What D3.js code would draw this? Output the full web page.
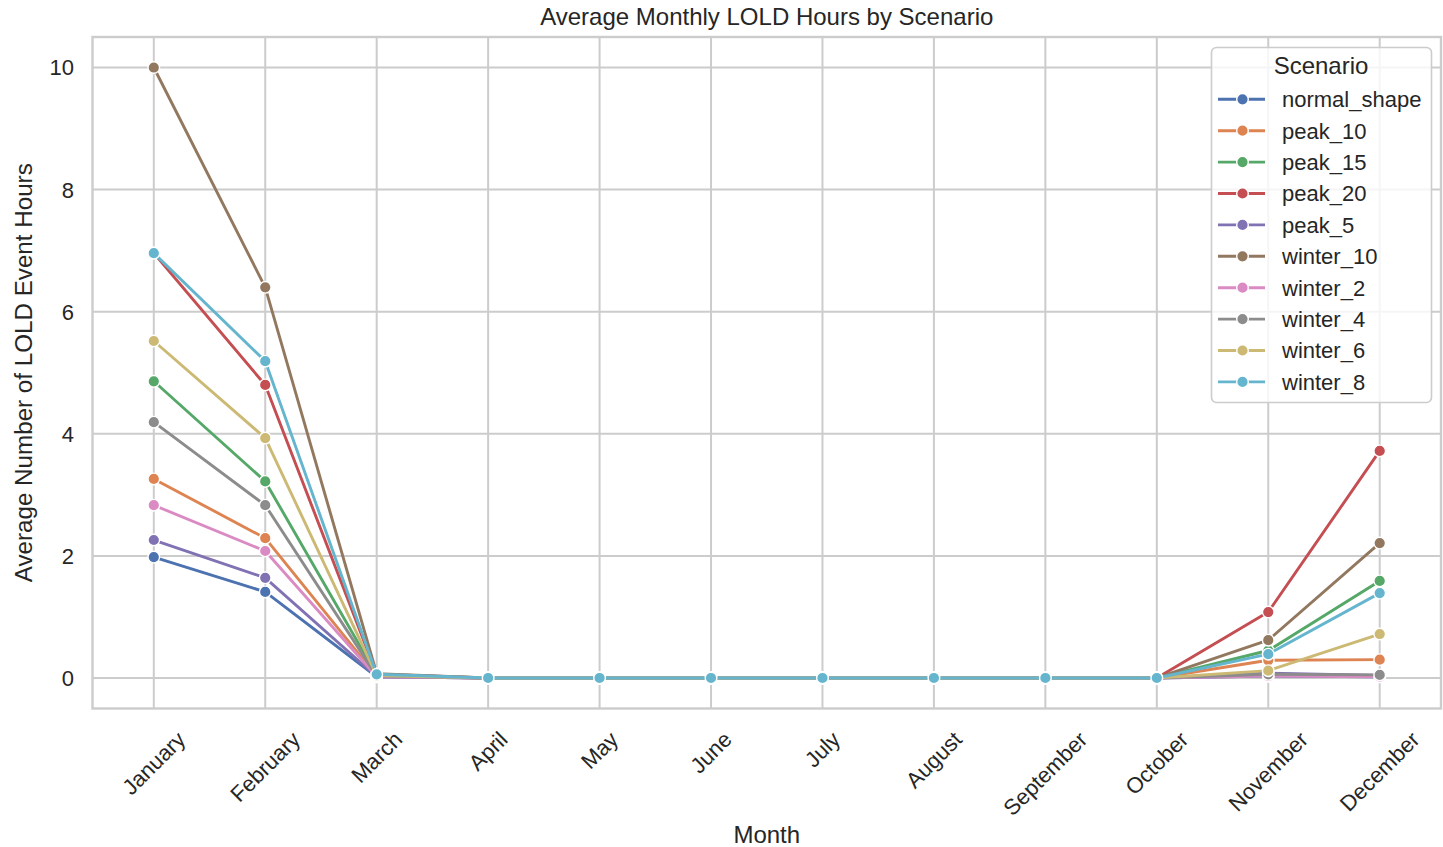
<!DOCTYPE html>
<html>
<head>
<meta charset="utf-8">
<script src="https://cdn.jsdelivr.net/npm/d3@7"></script>
<style>
  body { margin: 0; background: #fff; }
  text { font-family: "Liberation Sans", Arial, sans-serif; fill: #262626; }
</style>
</head>
<body>
<svg id="chart" width="1443" height="847"></svg>
<script>
const months = ["January","February","March","April","May","June","July","August","September","October","November","December"];
const scenarios = ["normal_shape","peak_10","peak_15","peak_20","peak_5","winter_10","winter_2","winter_4","winter_6","winter_8"];
const colours = ["#4c72b0","#dd8452","#55a868","#c44e52","#8172b3","#937860","#da8bc3","#8c8c8c","#ccb974","#64b5cd"];
const yTicks = [0, 2, 4, 6, 8, 10];

// values per scenario, Jan..Dec
const normal_shape = [1.98, 1.41, 0.02, 0, 0, 0, 0, 0, 0, 0, 0.03, 0.02];
const peak_10      = [3.26, 2.29, 0.03, 0, 0, 0, 0, 0, 0, 0, 0.29, 0.30];
const peak_15      = [4.86, 3.22, 0.05, 0, 0, 0, 0, 0, 0, 0, 0.45, 1.59];
const peak_20      = [6.96, 4.80, 0.06, 0, 0, 0, 0, 0, 0, 0, 1.08, 3.72];
const peak_5       = [2.26, 1.64, 0.02, 0, 0, 0, 0, 0, 0, 0, 0.08, 0.04];
const winter_10    = [10.0, 6.40, 0.07, 0, 0, 0, 0, 0, 0, 0, 0.62, 2.21];
const winter_2     = [2.83, 2.08, 0.02, 0, 0, 0, 0, 0, 0, 0, 0.03, 0.02];
const winter_4     = [4.19, 2.83, 0.03, 0, 0, 0, 0, 0, 0, 0, 0.06, 0.05];
const winter_6     = [5.52, 3.93, 0.04, 0, 0, 0, 0, 0, 0, 0, 0.12, 0.72];
const winter_8     = [6.96, 5.19, 0.06, 0, 0, 0, 0, 0, 0, 0, 0.39, 1.39];
const seriesValues = [normal_shape, peak_10, peak_15, peak_20, peak_5, winter_10, winter_2, winter_4, winter_6, winter_8];

const svg = d3.select("#chart");
const plot = {left: 92.5, top: 37, right: 1441, bottom: 708.5};

// matplotlib-like margins: 5% on both axes
const x = d3.scaleLinear().domain([-0.55, 11.55]).range([plot.left, plot.right]);
const y = d3.scaleLinear().domain([-0.5, 10.5]).range([plot.bottom, plot.top]);

const grid = svg.append("g");
grid.selectAll(".vg").data(months).enter().append("line")
  .attr("x1", (d, i) => x(i)).attr("x2", (d, i) => x(i))
  .attr("y1", plot.top).attr("y2", plot.bottom)
  .attr("stroke", "#cccccc").attr("stroke-width", 2);
grid.selectAll(".hg").data(yTicks).enter().append("line")
  .attr("x1", plot.left).attr("x2", plot.right)
  .attr("y1", d => y(d)).attr("y2", d => y(d))
  .attr("stroke", "#cccccc").attr("stroke-width", 2);

// frame
svg.append("rect")
  .attr("x", plot.left).attr("y", plot.top)
  .attr("width", plot.right - plot.left).attr("height", plot.bottom - plot.top)
  .attr("fill", "none").attr("stroke", "#cccccc").attr("stroke-width", 2.4);

// y tick labels
svg.selectAll(".yt").data(yTicks).enter().append("text")
  .attr("x", 74).attr("y", d => y(d))
  .attr("dy", "0.36em")
  .attr("text-anchor", "end")
  .attr("font-size", "22px")
  .text(d => d);

// x tick labels, rotated 45 and centred under the tick
svg.selectAll(".xt").data(months).enter().append("text")
  .attr("font-size", "22px")
  .attr("text-anchor", "middle")
  .attr("dominant-baseline", "central")
  .text(d => d)
  .each(function(d, i) {
    const w = this.getComputedTextLength();
    const h = 16;
    const half = (w / 2 + h / 2) * Math.SQRT1_2;
    const cx = x(i), cy = 730 + half;
    d3.select(this).attr("x", cx).attr("y", cy)
      .attr("transform", `rotate(-45, ${cx}, ${cy})`);
  });

// lines and markers
const line = d3.line().x((d, i) => x(i)).y(d => y(d));
scenarios.forEach((name, k) => {
  const g = svg.append("g");
  g.append("path")
    .attr("d", line(seriesValues[k]))
    .attr("fill", "none")
    .attr("stroke", colours[k])
    .attr("stroke-width", 2.9)
    .attr("stroke-linejoin", "round");
  g.selectAll("circle").data(seriesValues[k]).enter().append("circle")
    .attr("cx", (d, i) => x(i)).attr("cy", d => y(d))
    .attr("r", 5.8)
    .attr("fill", colours[k])
    .attr("stroke", "#fff").attr("stroke-width", 1.4);
});

// title and axis labels
svg.append("text")
  .attr("x", (plot.left + plot.right) / 2).attr("y", 25)
  .attr("text-anchor", "middle").attr("font-size", "24px")
  .text("Average Monthly LOLD Hours by Scenario");

svg.append("text")
  .attr("x", (plot.left + plot.right) / 2).attr("y", 843)
  .attr("text-anchor", "middle").attr("font-size", "24px")
  .text("Month");

svg.append("text")
  .attr("transform", `translate(32, ${(plot.top + plot.bottom) / 2}) rotate(-90)`)
  .attr("text-anchor", "middle").attr("font-size", "24.2px")
  .text("Average Number of LOLD Event Hours");

// legend
const legend = svg.append("g");
legend.append("rect")
  .attr("x", 1211.5).attr("y", 47.5).attr("width", 220).attr("height", 355)
  .attr("rx", 5).attr("ry", 5)
  .attr("fill", "#fff").attr("fill-opacity", 0.8)
  .attr("stroke", "#cccccc").attr("stroke-width", 1.6);
legend.append("text")
  .attr("x", 1321).attr("y", 74)
  .attr("text-anchor", "middle").attr("font-size", "24px")
  .text("Scenario");
scenarios.forEach((name, k) => {
  const ly = 99.3 + k * 31.4;
  legend.append("line")
    .attr("x1", 1218).attr("x2", 1265).attr("y1", ly).attr("y2", ly)
    .attr("stroke", colours[k]).attr("stroke-width", 2.9);
  legend.append("circle")
    .attr("cx", 1242.5).attr("cy", ly).attr("r", 5.8)
    .attr("fill", colours[k]).attr("stroke", "#fff").attr("stroke-width", 1.4);
  legend.append("text")
    .attr("x", 1282).attr("y", ly).attr("dy", "0.36em")
    .attr("font-size", "22px")
    .text(name);
});
</script>
</body>
</html>
